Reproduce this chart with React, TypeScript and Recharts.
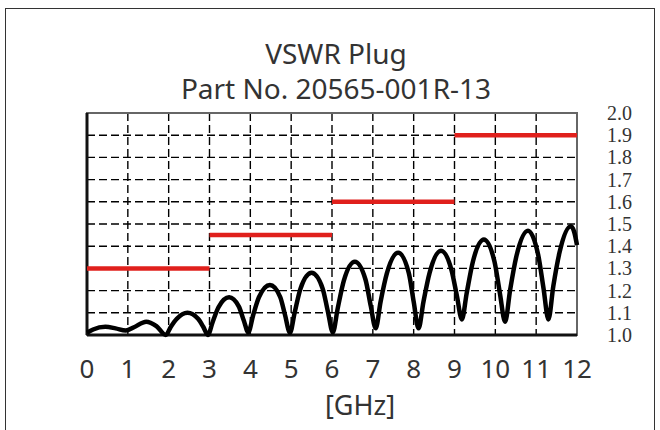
import React from "react";
import {
  LineChart,
  Line,
  XAxis,
  YAxis,
  CartesianGrid,
  ReferenceLine,
  ReferenceArea,
} from "recharts";

const freqGHz = [
  0.0, 0.15, 0.45, 0.7, 0.95, 1.15, 1.45, 1.7, 1.93,
  2.05, 2.2, 2.46, 2.72, 2.85, 2.96,
  3.08, 3.22, 3.48, 3.72, 3.84, 3.95,
  4.07, 4.21, 4.48, 4.73, 4.85, 4.97,
  5.09, 5.23, 5.5, 5.77, 5.9, 6.02,
  6.14, 6.29, 6.56, 6.82, 6.95, 7.07,
  7.19, 7.34, 7.62, 7.88, 8.0, 8.12,
  8.24, 8.39, 8.67, 8.93, 9.06, 9.18,
  9.3, 9.45, 9.72, 9.98, 10.11, 10.24,
  10.36, 10.51, 10.8, 11.05, 11.18, 11.3,
  11.42, 11.57, 11.85, 11.93, 12.0,
];
const vswr = [
  1.01, 1.025, 1.037, 1.03, 1.02, 1.035, 1.06, 1.04, 1.0,
  1.036, 1.073, 1.1, 1.073, 1.036, 1.0,
  1.06, 1.125, 1.17, 1.128, 1.065, 1.012,
  1.09, 1.17, 1.225, 1.172, 1.09, 1.01,
  1.105, 1.21, 1.28, 1.21, 1.105, 1.012,
  1.12, 1.245, 1.33, 1.25, 1.13, 1.03,
  1.15, 1.275, 1.37, 1.28, 1.15, 1.03,
  1.15, 1.28, 1.38, 1.29, 1.175, 1.07,
  1.19, 1.33, 1.43, 1.33, 1.19, 1.06,
  1.2, 1.35, 1.47, 1.36, 1.21, 1.07,
  1.22, 1.37, 1.49, 1.465, 1.405,
];

// spec limit steps
const limitFrom = [0, 3, 6, 9];
const limitTo = [3, 6, 9, 12];
const limitValue = [1.3, 1.45, 1.6, 1.9];

const xTicks = [0, 1, 2, 3, 4, 5, 6, 7, 8, 9, 10, 11, 12];
const yTicks = [1.0, 1.1, 1.2, 1.3, 1.4, 1.5, 1.6, 1.7, 1.8, 1.9, 2.0];

const data = freqGHz.map((f, i) => ({ f, v: vswr[i] }));

const sans = "'Noto Sans', 'Open Sans', sans-serif";

function XTick({ x, y, payload }: any) {
  return (
    <text
      x={x}
      y={y + 31}
      textAnchor="middle"
      dominantBaseline="central"
      fontSize={26}
      fontFamily={sans}
      fill="#333"
    >
      {payload.value}
    </text>
  );
}

function YTick({ x, y, payload }: any) {
  return (
    <text
      x={x + 28}
      y={y}
      textAnchor="start"
      dominantBaseline="central"
      fontSize={20}
      fontFamily="'Liberation Serif', serif"
      fill="#333"
    >
      {Number(payload.value).toFixed(1)}
    </text>
  );
}

export default function App() {
  return (
    <div
      style={{
        position: "fixed",
        left: 0,
        top: 0,
        width: 660,
        height: 430,
        background: "#fff",
        overflow: "hidden",
      }}
    >
      <div
        style={{
          position: "absolute",
          left: 5,
          top: 8,
          width: 650,
          height: 440,
          border: "1.5px solid #333",
          boxSizing: "border-box",
        }}
      />
      <div
        style={{
          position: "absolute",
          left: 0,
          width: 672,
          top: 36,
          textAlign: "center",
          fontFamily: sans,
          fontSize: 28,
          color: "#333",
          lineHeight: "35px",
        }}
      >
        <div>VSWR Plug</div>
        <div>Part No. 20565-001R-13</div>
      </div>
      <div
        style={{
          position: "absolute",
          left: 0,
          width: 720,
          top: 391,
          textAlign: "center",
          fontFamily: sans,
          fontSize: 27,
          color: "#333",
          lineHeight: "28px",
        }}
      >
        [GHz]
      </div>
      <div style={{ position: "absolute", left: 0, top: 0 }}>
        <LineChart
          width={660}
          height={430}
          data={data}
          margin={{ top: 113, left: 87, right: 3, bottom: 35 }}
        >
          <CartesianGrid stroke="#000" strokeWidth={1.4} strokeDasharray="8 4" />
          <XAxis
            dataKey="f"
            type="number"
            domain={[0, 12]}
            ticks={xTicks}
            axisLine={false}
            tickLine={false}
            tickSize={0}
            height={60}
            tick={<XTick />}
            interval={0}
          />
          <YAxis
            orientation="right"
            type="number"
            domain={[1, 2]}
            ticks={yTicks}
            axisLine={false}
            tickLine={false}
            tickSize={0}
            width={80}
            tick={<YTick />}
            interval={0}
          />
          <ReferenceArea
            x1={0}
            x2={12}
            y1={1}
            y2={2}
            fill="none"
            stroke="#666"
            strokeWidth={2}
          />
          <ReferenceLine x={0} stroke="#111" strokeWidth={3} />
          <ReferenceLine y={1} stroke="#111" strokeWidth={3} />
          {limitValue.map((v, i) => (
            <ReferenceLine
              key={i}
              segment={[
                { x: limitFrom[i], y: v },
                { x: limitTo[i], y: v },
              ]}
              stroke="#e0201c"
              strokeWidth={4.5}
            />
          ))}
          <Line
            type="monotone"
            dataKey="v"
            stroke="#000"
            strokeWidth={4.5}
            dot={false}
            isAnimationActive={false}
          />
        </LineChart>
      </div>
    </div>
  );
}
